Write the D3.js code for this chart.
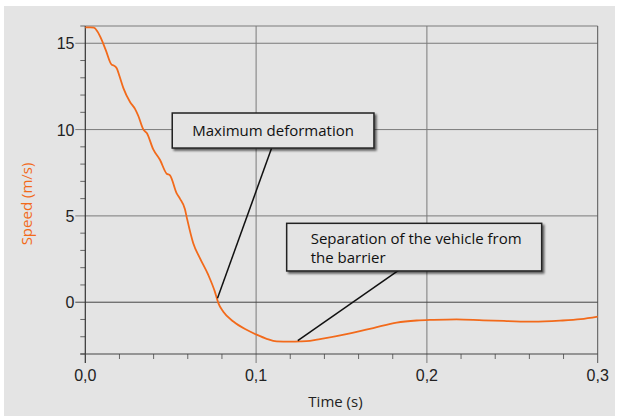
<!DOCTYPE html>
<html><head><meta charset="utf-8">
<script src="https://cdn.jsdelivr.net/npm/d3@7"></script>
<style>html,body{margin:0;padding:0;background:#fff;}svg{display:block;}</style>
</head><body>
<svg id="c" width="619" height="416"></svg>
<script>
const times = [0, 0.003, 0.005, 0.007, 0.0096, 0.012, 0.0155, 0.0165, 0.0184, 0.020, 0.0223, 0.0262, 0.0291, 0.031, 0.034, 0.036, 0.0398, 0.0437, 0.0476, 0.0496, 0.0535, 0.0554, 0.0583, 0.0593, 0.0632, 0.0671, 0.072, 0.0759, 0.0779, 0.0808, 0.0867, 0.0944, 0.1003, 0.1062, 0.112, 0.1198, 0.1257, 0.1315, 0.1374, 0.155, 0.1686, 0.1823, 0.194, 0.2037, 0.2174, 0.233, 0.2467, 0.2623, 0.2779, 0.29, 0.3];
const speeds = [15.92, 15.92, 15.9, 15.7, 15.2, 14.6, 13.75, 13.72, 13.55, 13.1, 12.4, 11.6, 11.2, 10.8, 10.0, 9.8, 8.85, 8.25, 7.45, 7.35, 6.3, 6.0, 5.4, 4.96, 3.42, 2.55, 1.58, 0.6, -0.05, -0.55, -1.12, -1.6, -1.88, -2.12, -2.27, -2.28, -2.27, -2.24, -2.14, -1.8, -1.5, -1.18, -1.06, -1.02, -0.99, -1.05, -1.09, -1.13, -1.07, -0.98, -0.83];
const xTickLabels = ["0,0", "0,1", "0,2", "0,3"];
const xTickValues = [0, 0.1, 0.2, 0.3];
const yTickValues = [0, 5, 10, 15];
const annotationTexts = [["Maximum deformation"], ["Separation of the vehicle from", "the barrier"]];
// annotation boxes in data coords: [t0, t1, vTop, vBottom], leader [tFrom, vFrom, tTo, vTo]
const annotationBoxes = [[0.0509, 0.1690, 10.96, 8.93], [0.1179, 0.2672, 4.57, 1.81]];
const annotationLeaders = [[0.1091, 8.93, 0.0774, 0.23], [0.1838, 1.87, 0.1244, -2.22]];

const svg = d3.select("#c");
svg.append("rect").attr("x", 4).attr("y", 6).attr("width", 611).attr("height", 410).attr("fill", "#e4e4e4");

const x = d3.scaleLinear().domain([0, 0.3]).range([85.3, 597.7]);
const y = d3.scaleLinear().domain([-3, 16]).range([354, 26]);

const defs = svg.append("defs");
const f = defs.append("filter").attr("id", "sh").attr("x", "-10%").attr("y", "-20%").attr("width", "130%").attr("height", "160%");
f.append("feGaussianBlur").attr("in", "SourceAlpha").attr("stdDeviation", 1.2);
f.append("feOffset").attr("dx", 2).attr("dy", 2).attr("result", "o");
f.append("feComponentTransfer").append("feFuncA").attr("type", "linear").attr("slope", 0.6);
const m = f.append("feMerge"); m.append("feMergeNode"); m.append("feMergeNode").attr("in", "SourceGraphic");

// grid
const g = svg.append("g");
g.selectAll(".hg").data([15, 10, 5, 16]).enter().append("line")
  .attr("x1", d => d === 16 ? x(0) : x(0) - 10).attr("x2", x(0.3))
  .attr("y1", d => y(d)).attr("y2", d => y(d)).attr("stroke", "#7a7a7a").attr("stroke-width", 1);
g.selectAll(".vg").data([0.1, 0.2, 0.3]).enter().append("line")
  .attr("x1", d => x(d)).attr("x2", d => x(d)).attr("y1", y(16)).attr("y2", y(-3) + 9)
  .attr("stroke", d => d === 0.3 ? "#555" : "#7a7a7a").attr("stroke-width", 1);
// zero line
g.append("line").attr("x1", x(0) - 10).attr("x2", x(0.3)).attr("y1", y(0)).attr("y2", y(0)).attr("stroke", "#444").attr("stroke-width", 1);

// minor ticks
g.selectAll(".ymt").data(d3.range(-3, 17).filter(v => v % 5 !== 0)).enter().append("line")
  .attr("x1", x(0) - 5).attr("x2", x(0)).attr("y1", d => y(d)).attr("y2", d => y(d)).attr("stroke", "#666");
g.selectAll(".xmt").data(d3.range(1, 15).filter(i => i % 5 !== 0).map(i => i * 0.02)).enter().append("line")
  .attr("x1", d => x(d)).attr("x2", d => x(d)).attr("y1", y(-3)).attr("y2", y(-3) + 5).attr("stroke", "#666");

// axes lines
g.append("line").attr("x1", x(0)).attr("x2", x(0)).attr("y1", y(16)).attr("y2", y(-3) + 9).attr("stroke", "#333").attr("stroke-width", 1.2);
g.append("line").attr("x1", x(0) - 5).attr("x2", x(0.3)).attr("y1", y(-3)).attr("y2", y(-3)).attr("stroke", "#444").attr("stroke-width", 1.2);

// tick labels
svg.selectAll(".yl").data(yTickValues).enter().append("text")
  .attr("x", 74.5).attr("y", d => y(d) + 6).attr("text-anchor", "end")
  .attr("font-family", "Liberation Sans, Arial, sans-serif").attr("font-size", 16).attr("fill", "#222").text(d => d);
svg.selectAll(".xl").data(xTickValues).enter().append("text")
  .attr("x", d => x(d)).attr("y", 380.5).attr("text-anchor", "middle")
  .attr("font-family", "Liberation Sans, Arial, sans-serif").attr("font-size", 16).attr("fill", "#222").text((d, i) => xTickLabels[i]);

svg.append("text").attr("x", 335.5).attr("y", 407).attr("text-anchor", "middle")
  .attr("font-family", "Open Sans, sans-serif").attr("font-size", 15).attr("fill", "#222").text("Time (s)");
svg.append("text").attr("transform", "translate(32,204) rotate(-90)").attr("text-anchor", "middle")
  .attr("font-family", "Open Sans, sans-serif").attr("font-size", 15).attr("fill", "#f26a1b").text("Speed (m/s)");

// curve
const pts = times.map((t, i) => [t, speeds[i]]);
svg.append("path").datum(pts).attr("fill", "none").attr("stroke", "#f26a1b").attr("stroke-width", 1.8)
  .attr("stroke-linejoin", "round")
  .attr("d", d3.line().curve(d3.curveMonotoneX).x(d => x(d[0])).y(d => y(d[1])));

// annotations
annotationLeaders.forEach(l => {
  svg.append("line").attr("x1", x(l[0])).attr("y1", y(l[1])).attr("x2", x(l[2])).attr("y2", y(l[3]))
    .attr("stroke", "#111").attr("stroke-width", 1.5);
});
annotationBoxes.forEach((b, i) => {
  svg.append("rect").attr("x", x(b[0])).attr("y", y(b[2])).attr("width", x(b[1]) - x(b[0])).attr("height", y(b[3]) - y(b[2]))
    .attr("fill", "#e4e4e4").attr("stroke", "#222").attr("stroke-width", 1.5).attr("filter", "url(#sh)");
  const lines = annotationTexts[i];
  lines.forEach((s, j) => {
    svg.append("text").attr("x", x(b[0]) + (i === 0 ? 20 : 24)).attr("y", (i === 0 ? y(b[2]) + 23 : y(b[2]) + 20.5) + j * 19.5)
      .attr("font-family", "Open Sans, sans-serif").attr("font-size", 15).attr("fill", "#111").text(s);
  });
});
</script>
</body></html>
